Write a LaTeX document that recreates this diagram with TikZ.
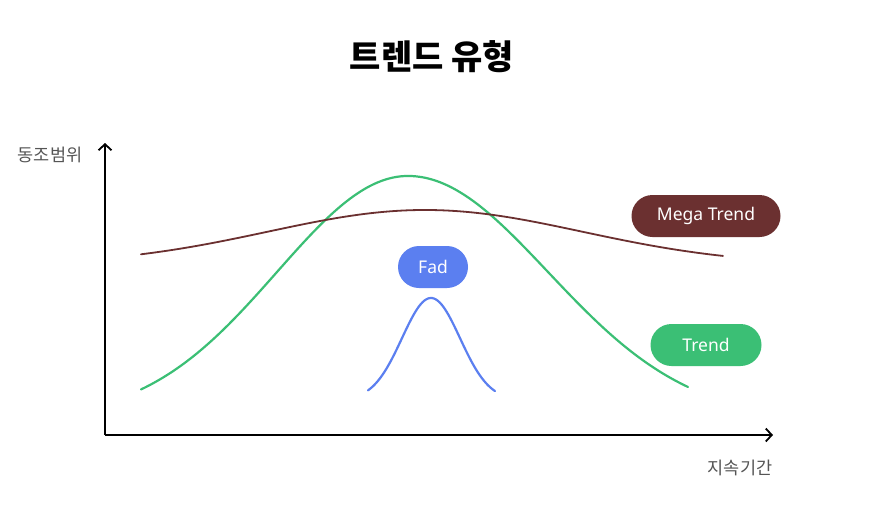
\documentclass[tikz,border=0pt]{standalone}
\usepackage{fontspec}
\setmainfont{Noto Sans}
\newfontfamily\kr{Noto Sans CJK KR}
\usetikzlibrary{arrows.meta}
\definecolor{megacol}{HTML}{6B3030}
\definecolor{trendcol}{HTML}{3BBF75}
\definecolor{fadcol}{HTML}{5B7FF0}
\definecolor{labelcol}{HTML}{555555}
\begin{document}
\begin{tikzpicture}[x=1pt,y=-1pt,
  axis/.style={line width=2pt,-{Straight Barb[length=6pt,width=13pt,line width=1.8pt]}},
  pill node/.style={rounded corners=21pt,minimum height=42pt,inner sep=0pt,
  text=white,font=\fontsize{17.5}{20}\selectfont},
  axis label/.style={text=labelcol,font=\kr\fontsize{17.5}{20}\selectfont}]
  \useasboundingbox[fill=white] (0,0) rectangle (878,509);
  \node[font=\kr\bfseries\fontsize{34}{40}\selectfont] (title) at (432,57) {트렌드 유형};

  % axes
  \coordinate (O) at (105,435);
  \coordinate (Ytop) at (105,143);
  \coordinate (Xend) at (773,435);
  \draw[axis] (O) -- (Ytop);
  \draw[axis] (O) -- (Xend);
  \node[axis label] (ylab) at (50,155) {동조범위};
  \node[axis label] (xlab) at (740,468) {지속기간};

  % curves
  \draw[trendcol,line width=2.2pt,line cap=round] plot[domain=141:688,samples=140,smooth]
    (\x,{420-244*exp(-((\x-408)/(\x<408 ? 131 : 140))^2/2)});
  \draw[megacol,line width=1.8pt,line cap=round] plot[domain=141:723,samples=120,smooth]
    (\x,{265-55*exp(-((\x-425)/157)^2/2)});
  \draw[fadcol,line width=2.2pt,line cap=round] plot[domain=368:495,samples=80,smooth]
    (\x,{400-102*exp(-((\x-431)/29)^2/2)});

  % labels
  \node[pill node,fill=megacol,minimum width=149pt] (mega) at (706,216) {Mega Trend};
  \node[pill node,fill=trendcol,minimum width=111pt] (trend) at (706,345) {Trend};
  \node[pill node,fill=fadcol,minimum width=70pt] (fad) at (433,267) {Fad};
\end{tikzpicture}
\end{document}
